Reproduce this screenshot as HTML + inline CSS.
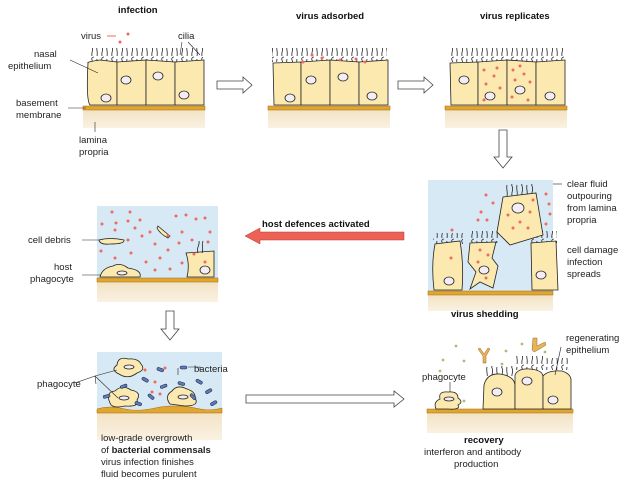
<!DOCTYPE html>
<html><head><meta charset="utf-8"><style>
body{margin:0;background:#fff;}
svg{display:block;font-family:"Liberation Sans",sans-serif;}
.t{font-size:9.5px;fill:#222}
.b{font-size:9.5px;font-weight:bold;fill:#111}
</style></head><body>
<svg width="632" height="482" viewBox="0 0 632 482">
<defs>
<pattern id="cil" width="10" height="14" patternUnits="userSpaceOnUse">
<path d="M2 14 C1 10 4 8 2 4 C1 2 3 1 4 1 M7 14 C8 10 6 7 7 3" stroke="#222" stroke-width="0.8" fill="none"/>
</pattern>
<linearGradient id="lam" x1="0" y1="0" x2="0" y2="1"><stop offset="0" stop-color="#f3e3c4"/><stop offset="1" stop-color="#faf1e2"/></linearGradient>
</defs>
<text class="b" x="118" y="13">infection</text>
<text class="b" x="296" y="19">virus adsorbed</text>
<text class="b" x="480" y="19">virus replicates</text>

<!-- Panel 1 -->
<rect x="83" y="110" width="122" height="18" fill="url(#lam)"/>
<rect x="83" y="106" width="122" height="4" fill="#e0a630" stroke="#a06a10" stroke-width="0.5"/>
<rect x="88" y="48" width="115" height="14" fill="url(#cil)"/>
<g fill="#fbe9b0" stroke="#222" stroke-width="0.8">
<path d="M88 63 Q86 62 100 60 L117 62 L117 105 L90 105 Q86 100 88 63Z"/>
<path d="M117 62 L146 60 L146 105 L117 105Z"/>
<path d="M146 60 L175 62 L175 105 L146 105Z"/>
<path d="M175 62 L204 60 L204 105 L175 105Z"/>
</g>
<g fill="#f4eef4" stroke="#222" stroke-width="0.8">
<ellipse cx="106" cy="98" rx="5" ry="4"/><ellipse cx="126" cy="80" rx="5" ry="4"/><ellipse cx="158" cy="76" rx="5" ry="4"/><ellipse cx="184" cy="95" rx="5" ry="4"/>
</g>
<g fill="#ef6a60"><circle cx="128" cy="34" r="1.5"/><circle cx="120" cy="42" r="1.5"/></g>
<text class="t" x="81" y="39">virus</text><path d="M107 36 L116 36" stroke="#ef6a60"/>
<text class="t" x="178" y="39">cilia</text><path d="M182 42 L180 55 M188 42 L200 55" stroke="#222" stroke-width="0.6"/>
<text class="t" x="34" y="57">nasal</text><text class="t" x="8" y="69">epithelium</text>
<path d="M70 60 L98 73" stroke="#222" stroke-width="0.6"/>
<text class="t" x="16" y="106">basement</text><text class="t" x="16" y="118">membrane</text>
<path d="M68 108 L86 108" stroke="#222" stroke-width="0.6"/>
<path d="M95 122 L95 132" stroke="#222" stroke-width="0.6"/>
<text class="t" x="79" y="143">lamina</text><text class="t" x="79" y="155">propria</text>

<path d="M217 81 L243 81 L243 77 L252 85 L243 93 L243 89 L217 89Z" fill="#fff" stroke="#444" stroke-width="0.8"/>
<!-- Panel 2 -->
<rect x="268" y="110" width="122" height="18" fill="url(#lam)"/>
<rect x="268" y="106" width="122" height="4" fill="#e0a630" stroke="#a06a10" stroke-width="0.5"/>
<rect x="272" y="48" width="115" height="14" fill="url(#cil)"/>
<g fill="#fbe9b0" stroke="#222" stroke-width="0.8">
<path d="M273 63 L301 62 L301 105 L274 105Z"/><path d="M301 62 L330 60 L330 105 L301 105Z"/><path d="M330 60 L359 62 L359 105 L330 105Z"/><path d="M359 62 L388 60 L388 105 L359 105Z"/>
</g>
<g fill="#f4eef4" stroke="#222" stroke-width="0.8">
<ellipse cx="290" cy="98" rx="5" ry="4"/><ellipse cx="311" cy="80" rx="5" ry="4"/><ellipse cx="343" cy="77" rx="5" ry="4"/><ellipse cx="372" cy="96" rx="5" ry="4"/>
</g>
<g fill="#ef6a60"><circle cx="303" cy="62" r="1.5"/><circle cx="322" cy="58" r="1.5"/><circle cx="340" cy="60" r="1.5"/><circle cx="356" cy="59" r="1.5"/><circle cx="312" cy="55" r="1.5"/><circle cx="365" cy="62" r="1.5"/></g>
<path d="M398 81 L424 81 L424 77 L433 85 L424 93 L424 89 L398 89Z" fill="#fff" stroke="#444" stroke-width="0.8"/>
<!-- Panel 3 -->
<rect x="445" y="110" width="122" height="18" fill="url(#lam)"/>
<rect x="445" y="106" width="122" height="4" fill="#e0a630" stroke="#a06a10" stroke-width="0.5"/>
<rect x="450" y="48" width="115" height="14" fill="url(#cil)"/>
<g fill="#fbe9b0" stroke="#222" stroke-width="0.8">
<path d="M450 63 L478 62 L478 105 L451 105Z"/><path d="M478 62 L507 60 L507 105 L478 105Z"/><path d="M507 60 L536 62 L536 105 L507 105Z"/><path d="M536 62 L565 60 L565 105 L536 105Z"/>
</g>
<g fill="#f4eef4" stroke="#222" stroke-width="0.8">
<ellipse cx="464" cy="80" rx="5" ry="4"/><ellipse cx="490" cy="96" rx="5" ry="4"/><ellipse cx="520" cy="90" rx="5" ry="4"/><ellipse cx="550" cy="96" rx="5" ry="4"/>
</g>
<g fill="#ef6a60">
<circle cx="484" cy="70" r="1.5"/><circle cx="494" cy="76" r="1.5"/><circle cx="486" cy="84" r="1.5"/><circle cx="500" cy="88" r="1.5"/><circle cx="497" cy="68" r="1.5"/><circle cx="484" cy="100" r="1.5"/>
<circle cx="513" cy="70" r="1.5"/><circle cx="524" cy="74" r="1.5"/><circle cx="515" cy="80" r="1.5"/><circle cx="530" cy="82" r="1.5"/><circle cx="512" cy="97" r="1.5"/><circle cx="528" cy="100" r="1.5"/><circle cx="520" cy="66" r="1.5"/>
</g>
<path d="M499 130 L507 130 L507 157 L512 157 L503 168 L494 157 L499 157Z" fill="#fff" stroke="#444" stroke-width="0.8"/>

<!-- Panel 4 -->
<rect x="428" y="180" width="125" height="111" fill="#d7e9f5"/>
<rect x="428" y="295" width="125" height="16" fill="url(#lam)"/>
<rect x="428" y="291" width="125" height="4" fill="#e0a630" stroke="#a06a10" stroke-width="0.5"/>
<rect x="433" y="233" width="30" height="11" fill="url(#cil)"/>
<rect x="470" y="231" width="30" height="12" fill="url(#cil)"/>
<rect x="531" y="231" width="26" height="12" fill="url(#cil)"/>
<rect x="506" y="184" width="30" height="13" fill="url(#cil)"/>
<g fill="#fbe9b0" stroke="#222" stroke-width="0.8">
<path d="M435 244 L460 241 Q464 265 462 290 L434 290 Q431 265 435 244Z"/>
<path d="M470 243 L496 242 L492 258 L498 266 L493 288 L480 282 L470 289 L476 272 L468 262Z"/>
<path d="M531 243 L556 241 L558 290 L532 290Z"/>
<path d="M503 197 L536 193 L543 235 L510 245 L497 232Z"/>
</g>
<g fill="#f4eef4" stroke="#222" stroke-width="0.8">
<ellipse cx="449" cy="281" rx="5" ry="4"/><ellipse cx="484" cy="270" rx="5" ry="4"/><ellipse cx="541" cy="275" rx="5" ry="4"/><ellipse cx="518" cy="208" rx="6" ry="5"/>
</g>
<g fill="#ef6a60">
<circle cx="486" cy="195" r="1.5"/><circle cx="493" cy="203" r="1.5"/><circle cx="481" cy="212" r="1.5"/><circle cx="487" cy="220" r="1.5"/><circle cx="478" cy="220" r="1.5"/><circle cx="546" cy="194" r="1.5"/><circle cx="549" cy="204" r="1.5"/><circle cx="550" cy="214" r="1.5"/><circle cx="546" cy="224" r="1.5"/>
<circle cx="508" cy="215" r="1.5"/><circle cx="520" cy="222" r="1.5"/><circle cx="530" cy="212" r="1.5"/><circle cx="513" cy="228" r="1.5"/><circle cx="528" cy="228" r="1.5"/><circle cx="533" cy="200" r="1.5"/>
<circle cx="452" cy="230" r="1.5"/><circle cx="451" cy="258" r="1.5"/><circle cx="480" cy="250" r="1.5"/><circle cx="488" cy="255" r="1.5"/><circle cx="478" cy="262" r="1.5"/><circle cx="486" cy="278" r="1.5"/>
</g>
<path d="M553 184 L562 184" stroke="#222" stroke-width="0.6"/>
<text class="t" x="567" y="187">clear fluid</text><text class="t" x="567" y="199">outpouring</text><text class="t" x="567" y="211">from lamina</text><text class="t" x="567" y="223">propria</text>
<text class="t" x="567" y="253">cell damage</text><text class="t" x="567" y="265">infection</text><text class="t" x="567" y="277">spreads</text>

<text class="b" x="262" y="227">host defences activated</text>
<path d="M404 232 L260 232 L260 228 L245 236 L260 244 L260 240 L404 240Z" fill="#ec6356" stroke="#b33" stroke-width="0.5"/>

<!-- Panel 5 -->
<rect x="97" y="206" width="121" height="72" fill="#d7e9f5"/>
<rect x="97" y="282" width="121" height="20" fill="url(#lam)"/>
<rect x="97" y="278" width="121" height="4" fill="#e0a630" stroke="#a06a10" stroke-width="0.5"/>
<g fill="#fbe9b0" stroke="#222" stroke-width="0.8">
<path d="M99 240 Q110 237 124 240 Q125 244 110 244 Q100 245 99 240Z"/>
<path d="M158 226 Q165 232 170 236 L168 238 Q160 234 157 228Z"/>
<path d="M100 277 Q102 268 113 266 Q120 262 128 268 Q142 270 140 277Z"/>
<path d="M186 253 L214 251 L214 277 L187 277 Q190 265 186 253Z"/>
</g>
<g fill="#f4eef4" stroke="#222" stroke-width="0.8"><ellipse cx="122" cy="273" rx="5" ry="2"/><ellipse cx="205" cy="270" rx="5" ry="4"/></g>
<path d="M198 253 C196 247 200 246 199 241 M202 253 C204 248 201 246 203 241" stroke="#222" stroke-width="0.8" fill="none"/>
<g fill="#ef6a60">
<circle cx="130" cy="212" r="1.5"/><circle cx="116" cy="223" r="1.5"/><circle cx="102" cy="224" r="1.5"/><circle cx="128" cy="221" r="1.5"/><circle cx="140" cy="220" r="1.5"/><circle cx="115" cy="230" r="1.5"/><circle cx="135" cy="228" r="1.5"/><circle cx="142" cy="236" r="1.5"/><circle cx="150" cy="232" r="1.5"/><circle cx="128" cy="240" r="1.5"/><circle cx="101" cy="251" r="1.5"/><circle cx="131" cy="253" r="1.5"/><circle cx="115" cy="258" r="1.5"/><circle cx="146" cy="262" r="1.5"/><circle cx="160" cy="258" r="1.5"/><circle cx="155" cy="244" r="1.5"/><circle cx="168" cy="250" r="1.5"/><circle cx="168" cy="236" r="1.5"/><circle cx="176" cy="216" r="1.5"/><circle cx="186" cy="215" r="1.5"/><circle cx="196" cy="219" r="1.5"/><circle cx="205" cy="218" r="1.5"/><circle cx="182" cy="232" r="1.5"/><circle cx="192" cy="240" r="1.5"/><circle cx="210" cy="232" r="1.5"/><circle cx="179" cy="243" r="1.5"/><circle cx="170" cy="269" r="1.5"/><circle cx="155" cy="270" r="1.5"/><circle cx="182" cy="263" r="1.5"/><circle cx="208" cy="242" r="1.5"/><circle cx="194" cy="254" r="1.5"/><circle cx="205" cy="262" r="1.5"/><circle cx="112" cy="212" r="1.5"/>
</g>
<path d="M82 240 L99 240 M82 275 L101 275" stroke="#222" stroke-width="0.6"/>
<text class="t" x="28" y="243">cell debris</text>
<text class="t" x="54" y="270">host</text><text class="t" x="30" y="282">phagocyte</text>

<path d="M166 311 L174 311 L174 329 L179 329 L170 340 L161 329 L166 329Z" fill="#fff" stroke="#444" stroke-width="0.8"/>

<!-- Panel 6 -->
<rect x="97" y="352" width="125" height="57" fill="#d7e9f5"/>
<rect x="97" y="412" width="125" height="28" fill="url(#lam)"/>
<path d="M97 409 Q110 405 125 409 Q140 412 160 407 Q180 404 200 409 Q212 411 222 408 L222 413 L97 413Z" fill="#e0a630" stroke="#a06a10" stroke-width="0.5"/>
<g fill="#fbe9b0" stroke="#222" stroke-width="0.8">
<path d="M117 365 Q118 356 128 359 Q138 358 141 364 Q146 370 137 373 Q128 380 119 374 Q110 370 117 365Z"/>
<path d="M110 403 Q105 392 115 391 Q122 384 131 390 Q142 392 137 400 Q140 407 125 406 Q112 409 110 403Z"/>
<path d="M170 404 Q164 396 172 391 Q177 384 187 389 Q196 392 195 398 Q200 406 185 406Z"/>
</g>
<g fill="#f4eef4" stroke="#222" stroke-width="0.8"><ellipse cx="129" cy="367" rx="5" ry="2"/><ellipse cx="124" cy="398" rx="5" ry="2"/><ellipse cx="183" cy="397" rx="5" ry="2"/></g>
<g fill="#5a7bc0" stroke="#223" stroke-width="0.5">
<rect x="157" y="368" width="7" height="3" rx="1.5" transform="rotate(20 160 369)"/>
<rect x="180" y="366" width="7" height="3" rx="1.5"/>
<rect x="120" y="385" width="7" height="3" rx="1.5" transform="rotate(-20 123 386)"/>
<rect x="142" y="378" width="7" height="3" rx="1.5" transform="rotate(30 145 379)"/>
<rect x="103" y="395" width="7" height="3" rx="1.5" transform="rotate(-15 106 396)"/>
<rect x="148" y="395" width="7" height="3" rx="1.5" transform="rotate(40 151 396)"/>
<rect x="160" y="385" width="7" height="3" rx="1.5" transform="rotate(-20 163 386)"/>
<rect x="178" y="382" width="7" height="3" rx="1.5" transform="rotate(15 181 383)"/>
<rect x="196" y="380" width="7" height="3" rx="1.5" transform="rotate(30 199 381)"/>
<rect x="205" y="390" width="7" height="3" rx="1.5" transform="rotate(-30 208 391)"/>
<rect x="190" y="395" width="7" height="3" rx="1.5" transform="rotate(45 193 396)"/>
<rect x="210" y="402" width="7" height="3" rx="1.5" transform="rotate(-30 213 403)"/>
<rect x="135" y="402" width="7" height="3" rx="1.5" transform="rotate(20 138 403)"/>
</g>
<g fill="#ef6a60"><circle cx="145" cy="370" r="1.5"/><circle cx="165" cy="368" r="1.5"/><circle cx="155" cy="382" r="1.5"/><circle cx="152" cy="392" r="1.5"/><circle cx="160" cy="394" r="1.5"/></g>
<path d="M75 383 L95 376 L117 370 M95 376 L118 398 M95 376 L96 384" stroke="#222" stroke-width="0.6" fill="none"/>
<path d="M188 367 L200 367 L200 371 M178 375 L178 368" stroke="#222" stroke-width="0.6" fill="none"/>
<text class="t" x="37" y="387">phagocyte</text>
<text class="t" x="194" y="372">bacteria</text>
<text class="t" x="101" y="441">low-grade overgrowth</text>
<text class="t" x="101" y="453">of <tspan font-weight="bold">bacterial commensals</tspan></text>
<text class="t" x="101" y="465">virus infection finishes</text>
<text class="t" x="101" y="477">fluid becomes purulent</text>

<path d="M246 395 L394 395 L394 391 L404 399 L394 407 L394 403 L246 403Z" fill="#fff" stroke="#444" stroke-width="0.8"/>

<!-- Bottom right -->
<text class="b" x="451" y="317">virus shedding</text>
<rect x="427" y="413" width="146" height="20" fill="url(#lam)"/>
<rect x="427" y="409" width="146" height="4" fill="#e0a630" stroke="#a06a10" stroke-width="0.5"/>
<rect x="485" y="366" width="28" height="10" fill="url(#cil)"/>
<rect x="516" y="356" width="28" height="14" fill="url(#cil)"/>
<rect x="545" y="358" width="26" height="12" fill="url(#cil)"/>
<g fill="#fbe9b0" stroke="#222" stroke-width="0.8">
<path d="M483 409 L484 385 Q487 373 500 374 Q514 376 515 385 L515 409Z"/>
<path d="M515 409 L515 375 Q518 368 530 369 Q542 370 543 376 L543 409Z"/>
<path d="M543 409 L543 376 Q548 370 562 371 Q571 374 571 380 L571 409Z"/>
<path d="M436 409 Q433 402 440 399 Q438 391 448 392 Q458 391 458 398 Q464 402 458 405 Q461 410 448 409Z"/>
</g>
<g fill="#f4eef4" stroke="#222" stroke-width="0.8"><ellipse cx="497" cy="392" rx="5" ry="4"/><ellipse cx="527" cy="381" rx="5" ry="4"/><ellipse cx="553" cy="400" rx="5" ry="4"/><ellipse cx="449" cy="399" rx="5" ry="2"/></g>
<g fill="#e7b25c" stroke="#9a6a20" stroke-width="0.5">
<path d="M480 348 L484 354 L488 348 L490 349 L486 356 L486 363 L483 363 L483 356 L478 349Z"/>
<path d="M533 338 L537 338 L537 346 L545 342 L546 345 L538 350 L534 352 L532 350Z"/>
</g>
<g fill="#9bc37a"><circle cx="456" cy="346" r="1.4"/><circle cx="443" cy="360" r="1.4"/><circle cx="464" cy="361" r="1.4"/><circle cx="440" cy="371" r="1.4"/><circle cx="506" cy="351" r="1.4"/><circle cx="502" cy="364" r="1.4"/><circle cx="522" cy="344" r="1.4"/><circle cx="545" cy="352" r="1.4"/><circle cx="464" cy="401" r="1.4"/></g>
<path d="M450 382 L450 392" stroke="#222" stroke-width="0.6"/>
<text class="t" x="422" y="380">phagocyte</text>
<path d="M561 347 L555 375" stroke="#222" stroke-width="0.6"/>
<text class="t" x="566" y="341">regenerating</text><text class="t" x="566" y="353">epithelium</text>
<text class="b" x="464" y="443">recovery</text>
<text class="t" x="424" y="455">interferon and antibody</text>
<text class="t" x="454" y="467">production</text>
</svg>
</body></html>
